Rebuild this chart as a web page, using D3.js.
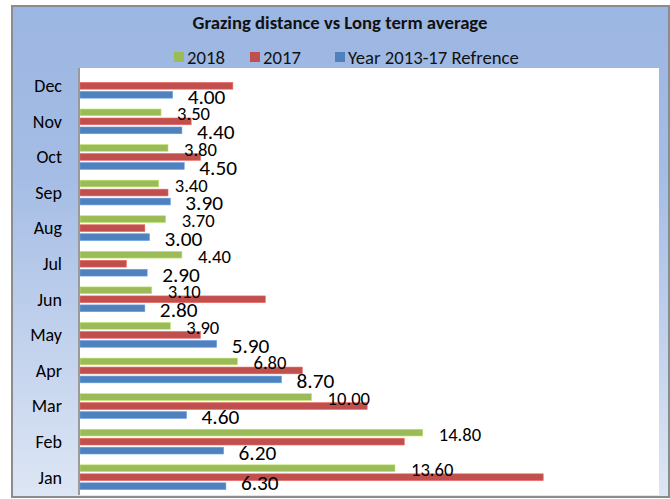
<!DOCTYPE html>
<html>
<head>
<meta charset="utf-8">
<script src="https://cdn.jsdelivr.net/npm/d3@7"></script>
<style>
  html, body { margin: 0; padding: 0; background: #ffffff; }
  svg { display: block; font-family: Carlito, Calibri, Lato, sans-serif; }
</style>
</head>
<body>
<svg id="chart" width="670" height="499"></svg>
<script>
// Monthly grazing distance, three series
const months = ["Jan", "Feb", "Mar", "Apr", "May", "Jun", "Jul", "Aug", "Sep", "Oct", "Nov", "Dec"];
const values2018 = [13.6, 14.8, 10.0, 6.8, 3.9, 3.1, 4.4, 3.7, 3.4, 3.8, 3.5, null];
const values2017 = [20.0, 14.0, 12.4, 9.6, 5.2, 8.0, 2.0, 2.8, 3.8, 5.2, 4.8, 6.6];
const reference  = [6.3, 6.2, 4.6, 8.7, 5.9, 2.8, 2.9, 3.0, 3.9, 4.5, 4.4, 4.0];
const seriesNames = ["2018", "2017", "Year 2013-17 Refrence"];
const seriesColors = ["#9bbb59", "#c0504d", "#4f81bd"];
const titleText = "Grazing distance vs Long term average";

const svg = d3.select("#chart");

// frame and plot geometry
const frame = { x: 12, y: 6, w: 657, h: 491 };
const plot = { left: 80, right: 659, top: 68, bottom: 495 };

const defs = svg.append("defs");
const grad = defs.append("linearGradient")
  .attr("id", "bgGrad").attr("x1", 0).attr("y1", 0).attr("x2", 0).attr("y2", 1);
grad.append("stop").attr("offset", "0%").attr("stop-color", "#9bb6e2");
grad.append("stop").attr("offset", "35%").attr("stop-color", "#a5bde5");
grad.append("stop").attr("offset", "100%").attr("stop-color", "#dde6f4");

// outer chart area with gray border
svg.append("rect")
  .attr("x", frame.x).attr("y", frame.y)
  .attr("width", frame.w).attr("height", frame.h)
  .attr("fill", "url(#bgGrad)")
  .attr("stroke", "#8c8c8c").attr("stroke-width", 2);

// white plot area
svg.append("rect")
  .attr("x", plot.left).attr("y", plot.top)
  .attr("width", plot.right - plot.left).attr("height", plot.bottom - plot.top)
  .attr("fill", "#ffffff");

// scales
const x = d3.scaleLinear().domain([0, 25]).range([plot.left, plot.right]);
const y = d3.scaleBand()
  .domain(months.slice().reverse())
  .range([plot.top, plot.bottom])
  .paddingInner(0.241).paddingOuter(0.1205);
const s = d3.scaleBand()
  .domain(seriesNames)
  .range([0, y.bandwidth()])
  .paddingInner(0.25).paddingOuter(0.125);

const rows = months.map((m, i) => ({
  month: m,
  vals: [values2018[i], values2017[i], reference[i]]
}));

// bars
const groups = svg.append("g").selectAll("g")
  .data(rows).join("g")
  .attr("transform", d => `translate(0,${y(d.month)})`);

groups.selectAll("rect")
  .data(d => d.vals.map((v, k) => ({ v, k })).filter(e => e.v != null))
  .join("rect")
  .attr("x", x(0))
  .attr("y", e => s(seriesNames[e.k]))
  .attr("width", e => x(e.v) - x(0))
  .attr("height", s.bandwidth())
  .attr("fill", e => seriesColors[e.k])
  .attr("stroke", e => d3.color(seriesColors[e.k]).brighter(0.6))
  .attr("stroke-width", 0.6);

// category axis (left), labels only plus axis line
const yAxis = d3.axisLeft(y).tickSize(0).tickPadding(0);
const axisG = svg.append("g")
  .attr("transform", `translate(${plot.left - 1},0)`)
  .call(yAxis);
axisG.select(".domain").attr("stroke", "#9a9a9a").attr("stroke-width", 2)
  .attr("d", `M0,${plot.top}V${plot.bottom}`);
axisG.selectAll(".tick text")
  .attr("x", 62 - (plot.left - 1))
  .attr("dy", "0.35em")
  .attr("fill", "#000")
  .style("font-size", "18px")
  .style("font-family", "Carlito, Calibri, Lato, sans-serif");

// data labels for 2018 and the reference series
const fmt = d3.format(".2f");
const labelG = svg.append("g");
rows.forEach(r => {
  const top = y(r.month);
  const g18 = r.vals[0];
  if (g18 != null) {
    labelG.append("text")
      .attr("x", x(g18) + 16)
      .attr("y", top + s(seriesNames[0]) + s.bandwidth() / 2 + 1.5)
      .attr("dy", "0.35em")
      .attr("fill", "#000")
      .style("font-size", "18.6px")
      .text(fmt(g18));
  }
  const ref = r.vals[2];
  let cy = top + s(seriesNames[2]) + s.bandwidth() / 2 + 1.5;
  cy = Math.min(cy, plot.bottom - 12);
  labelG.append("text")
    .attr("x", x(ref) + 15)
    .attr("y", cy)
    .attr("dy", "0.35em")
    .attr("fill", "#000")
    .style("font-size", "21.3px")
    .text(fmt(ref));
});

// title
svg.append("text")
  .attr("x", 340).attr("y", 22)
  .attr("dy", "0.35em")
  .attr("text-anchor", "middle")
  .attr("fill", "#111")
  .style("font-weight", "bold")
  .style("font-size", "18.7px")
  .text(titleText);

// legend
const legendX = [174, 250, 335];
const legend = svg.append("g");
seriesNames.forEach((n, k) => {
  legend.append("rect")
    .attr("x", legendX[k]).attr("y", 52)
    .attr("width", 10).attr("height", 10)
    .attr("fill", seriesColors[k]);
  legend.append("text")
    .attr("x", legendX[k] + 13).attr("y", 57)
    .attr("dy", "0.35em")
    .attr("fill", "#111")
    .style("font-size", "18.7px")
    .text(n);
});
</script>
</body>
</html>
